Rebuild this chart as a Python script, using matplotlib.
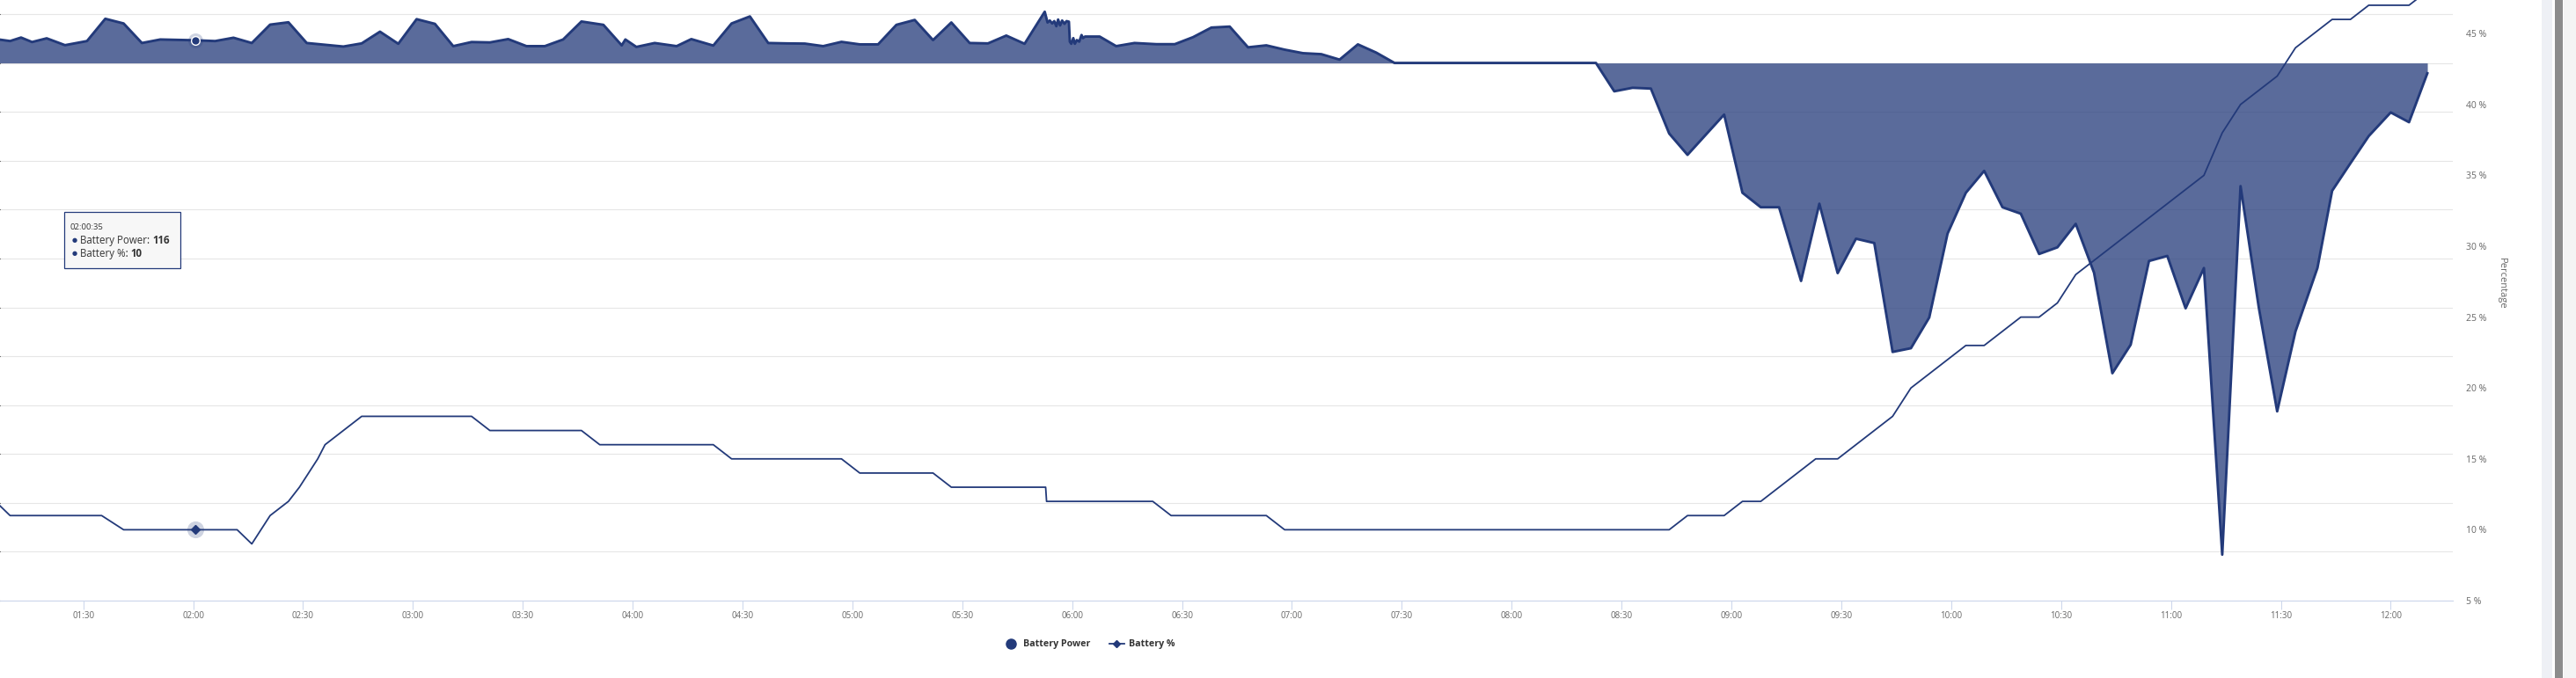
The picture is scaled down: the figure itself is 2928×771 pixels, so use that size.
import matplotlib
matplotlib.use('Agg')
import matplotlib.pyplot as plt
from matplotlib.lines import Line2D
from matplotlib.patches import Rectangle
from matplotlib.text import Annotation
import numpy as np

plt.rcParams['font.family'] = ['Open Sans', 'DejaVu Sans']

# ---------------- data ----------------
power_times = [
    "01:05", "01:10", "01:13", "01:16", "01:20", "01:25", "01:31", "01:36", "01:41", "01:46",
    "01:51", "01:56", "02:00:35", "02:06", "02:11", "02:16", "02:21", "02:26", "02:31", "02:36",
    "02:41", "02:46", "02:51", "02:56", "03:01", "03:06", "03:11", "03:16", "03:21", "03:26",
    "03:31", "03:36", "03:41", "03:46", "03:52", "03:57", "03:58", "04:01", "04:06", "04:12",
    "04:16", "04:22", "04:27", "04:32", "04:37", "04:42", "04:47", "04:52", "04:57", "05:02",
    "05:07", "05:12", "05:17", "05:22", "05:27", "05:32", "05:37", "05:42", "05:47",
    "05:52:30", "05:53:16", "05:53:53", "05:54:32", "05:55:06", "05:55:40", "05:56:09",
    "05:56:42", "05:57:15", "05:57:54", "05:58:27", "05:59:06", "05:59:21", "05:59:45",
    "06:00:18", "06:00:43", "06:01:16", "06:01:55", "06:02:33", "06:02:57", "06:03:30",
    "06:07:30", "06:12", "06:17", "06:23", "06:28", "06:33", "06:38", "06:43", "06:48",
    "06:53", "06:58", "07:03", "07:08", "07:13", "07:18", "07:23", "07:28", "08:23",
    "08:28", "08:33", "08:38", "08:43", "08:48", "08:53", "08:58", "09:03", "09:08", "09:13",
    "09:19", "09:24", "09:29", "09:34", "09:39", "09:44", "09:49", "09:54", "09:59", "10:04",
    "10:09", "10:14", "10:19", "10:24", "10:29", "10:34", "10:39", "10:44", "10:49", "10:54",
    "10:59", "11:04", "11:09", "11:14", "11:19", "11:24", "11:29", "11:34", "11:40", "11:44",
    "11:49", "11:54", "12:00", "12:05", "12:10",
]
battery_power = [
    125, 112, 130, 107, 126, 91, 112, 226, 202, 102,
    120, 118, 116, 112, 129, 102, 196, 208, 102, 93,
    84, 100, 160, 98, 224, 200, 86, 107, 105, 122,
    86, 86, 120, 212, 195, 90, 120, 82, 102, 86,
    122, 89, 202, 238, 102, 100, 99, 86, 108, 95,
    95, 195, 220, 117, 207, 102, 100, 140, 98,
    262, 207, 217, 202, 214, 188, 222,
    192, 217, 200, 214, 211, 109, 98,
    127, 98, 117, 109, 143, 127, 135,
    135, 86, 102, 96, 96, 132, 181, 186, 80,
    90, 68, 50, 45, 17, 95, 53, 0, 0,
    -145, -127, -131, -361, -470, -367, -264, -664, -738, -738,
    -1115, -720, -1075, -899, -921, -1478, -1459, -1302, -873, -664,
    -552, -738, -771, -977, -943, -823, -1073, -1587, -1441, -1013,
    -987, -1255, -1049, -2515, -630, -1253, -1782, -1373, -1048, -654,
    -513, -374, -253, -303, -53,
]

pct_times = [
    "01:06", "01:10", "01:35", "01:41", "02:00:35", "02:12", "02:16", "02:21", "02:26", "02:29",
    "02:34", "02:36", "02:41", "02:46", "03:16", "03:21", "03:46", "03:51", "04:22", "04:27",
    "04:57", "05:02", "05:22", "05:27", "05:52:45", "05:53:00", "06:22", "06:27", "06:53", "06:58",
    "08:43", "08:48", "08:58", "09:03", "09:08", "09:13", "09:18", "09:23", "09:29", "09:34",
    "09:39", "09:44", "09:49", "09:54", "09:59", "10:04", "10:09", "10:14", "10:19", "10:24",
    "10:29", "10:34", "10:39", "10:44", "10:49", "10:54", "10:59", "11:04", "11:09", "11:14",
    "11:19", "11:24", "11:29", "11:34", "11:39", "11:44", "11:49", "11:54", "12:05", "12:10",
]
battery_pct = [
    12, 11, 11, 10, 10, 10, 9, 11, 12, 13,
    15, 16, 17, 18, 18, 17, 17, 16, 16, 15,
    15, 14, 14, 13, 13, 12, 12, 11, 11, 10,
    10, 11, 11, 12, 12, 13, 14, 15, 15, 16,
    17, 18, 20, 21, 22, 23, 23, 24, 25, 25,
    26, 28, 29, 30, 31, 32, 33, 34, 35, 38,
    40, 41, 42, 44, 45, 46, 46, 47, 47, 48,
]

x_tick_labels = ["01:30", "02:00", "02:30", "03:00", "03:30", "04:00", "04:30", "05:00",
                 "05:30", "06:00", "06:30", "07:00", "07:30", "08:00", "08:30", "09:00",
                 "09:30", "10:00", "10:30", "11:00", "11:30", "12:00"]
pct_ticks = [5, 10, 15, 20, 25, 30, 35, 40, 45]

tooltip_time = "02:00:35"
tooltip_power = 116
tooltip_pct = 10


def to_hours(s):
    parts = [int(p) for p in s.split(':')]
    while len(parts) < 3:
        parts.append(0)
    return parts[0] + parts[1] / 60 + parts[2] / 3600


NAVY = '#233a7a'
GRID = '#e6e6e6'
AXIS = '#ccd6eb'
LABEL = '#666666'

W, H, DPI = 2928, 771, 100
fig = plt.figure(figsize=(W / DPI, H / DPI), dpi=DPI)
fig.patch.set_facecolor('white')

px = lambda x: x / W
py = lambda y: 1 - y / H

ax = fig.add_axes([0, py(683), px(2788), 683 / H])
pt = [to_hours(t) for t in power_times]
bt = [to_hours(t) for t in pct_times]

ax.fill_between(pt, battery_power, 0, color=NAVY, alpha=0.75, lw=0, zorder=2)
ax.plot(pt, battery_power, color=NAVY, lw=2.1, zorder=3, solid_joinstyle='round')

ax.set_xlim(67.25 / 60, 736.96 / 60)
ax.set_ylim(-2750, 322)
ax.set_yticks(np.arange(-2750, 251, 250))
ax.tick_params(axis='y', left=False, labelleft=False)
ax.grid(axis='y', color=GRID, lw=0.8)
ax.set_axisbelow(True)
ax.set_xticks([to_hours(t) for t in x_tick_labels])
ax.set_xticklabels(x_tick_labels)
ax.tick_params(axis='x', direction='out', length=7, width=0.72, color=AXIS,
               labelsize=7, labelcolor=LABEL, pad=1.5)
for s in ['top', 'left', 'right']:
    ax.spines[s].set_visible(False)
ax.spines['bottom'].set_color(AXIS)
ax.spines['bottom'].set_linewidth(0.8)

# hover markers (power)
th = to_hours(tooltip_time)
ax.scatter([th], [tooltip_power], s=150, color=NAVY, alpha=0.22, lw=0, zorder=5)
ax.plot([th], [tooltip_power], 'o', ms=7, mfc=NAVY, mec='white', mew=1.0, zorder=6)

ax2 = ax.twinx()
ax2.plot(bt, battery_pct, color=NAVY, lw=1.3, zorder=4)
ax2.set_ylim(5, 5 + 683 / 16.12)
ax2.set_yticks(pct_ticks)
ax2.set_yticklabels([f"{v} %" for v in pct_ticks])
ax2.tick_params(axis='y', length=0, pad=10.8, labelsize=7.5, labelcolor=LABEL)
for s in ax2.spines.values():
    s.set_visible(False)
ax2.scatter([th], [tooltip_pct], s=190, color=NAVY, alpha=0.22, lw=0, zorder=5)
ax2.plot([th], [tooltip_pct], 'D', ms=5, color=NAVY, zorder=6)

fig.text(px(2843), py(322), 'Percentage', rotation=270, ha='center', va='center',
         color=LABEL, fontsize=8)

# legend
handles = [
    Line2D([], [], marker='o', linestyle='none', ms=8, color=NAVY),
    Line2D([], [], marker='D', lw=1.3, ms=4, color=NAVY),
]
leg = fig.legend(handles, ['Battery Power', 'Battery %'], loc='center',
                 bbox_to_anchor=(px(1238), py(733)), ncol=2, frameon=False,
                 handlelength=1.6, handletextpad=0.5, columnspacing=2.0,
                 prop={'weight': 'bold', 'size': 7.7})
for t in leg.get_texts():
    t.set_color('#333333')

# tooltip
fig.add_artist(Rectangle((px(74), py(306)), px(132), 64 / H, transform=fig.transFigure,
                         facecolor='#000000', alpha=0.08, lw=0, zorder=1))
fig.add_artist(Rectangle((px(73), py(305)), px(132), 63.5 / H, transform=fig.transFigure,
                         facecolor='#f7f7f7', edgecolor=NAVY, lw=0.9, zorder=1))
fig.text(px(80), py(258.5), tooltip_time, fontsize=6.8, color='#333333', va='center')
for yy, name, val in [(273, 'Battery Power: ', tooltip_power), (288.5, 'Battery %: ', tooltip_pct)]:
    fig.text(px(81.5), py(yy), '\u25cf', fontsize=5, color=NAVY, va='center')
    t1 = fig.text(px(91), py(yy), name, fontsize=8.3, color='#333333', va='center')
    ann = Annotation(str(val), xy=(1, 0), xycoords=t1, va='bottom', ha='left',
                     fontsize=8.3, fontweight='bold', color='#333333',
                     annotation_clip=False)
    ann.set_zorder(5)
    fig.add_artist(ann)

# right-hand browser frame strips
fig.add_artist(Rectangle((px(2889), 0), px(12), 1, transform=fig.transFigure,
                         facecolor='#eef0f5', lw=0))
fig.add_artist(Rectangle((px(2904), 0), px(9), 1, transform=fig.transFigure,
                         facecolor='#8c8c8c', lw=0))
fig.add_artist(Rectangle((px(2914), 0), px(14), 1, transform=fig.transFigure,
                         facecolor='#f4f4f4', lw=0))

fig.savefig('out.png', dpi=DPI)
